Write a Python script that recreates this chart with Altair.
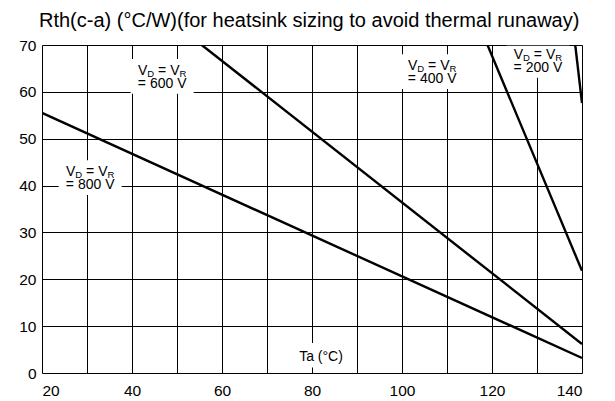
import altair as alt
import pandas as pd

# ---- data ----
ta_800 = [20, 140]
rth_800 = [55.5, 3.2]
ta_600 = [55.5, 140]
rth_600 = [70, 6.2]
ta_400 = [119, 140]
rth_400 = [70, 21.8]
ta_200 = [138.5, 140]
rth_200 = [70, 57.6]

label_volts = ["800 V", "600 V", "400 V", "200 V"]
label_ta = [30.7, 46.7, 106.7, 130.2]
label_rth = [41.7, 63.3, 64.3, 66.7]

axis_label = "Ta (°C)"
axis_label_ta = [82]
axis_label_rth = [3.4]

title = "Rth(c-a) (°C/W)(for heatsink sizing to avoid thermal runaway)"
x_ticks = list(range(20, 141, 10))
y_ticks = list(range(0, 71, 5))

FONT = "Liberation Sans"

rows = []
for name, xs, ys in [("800", ta_800, rth_800), ("600", ta_600, rth_600),
                     ("400", ta_400, rth_400), ("200", ta_200, rth_200)]:
    for i, (a, b) in enumerate(zip(xs, ys)):
        rows.append({"s": name, "ta": a, "rth": b, "o": i})
lines_df = pd.DataFrame(rows)

lab = pd.DataFrame({"ta": label_ta, "rth": label_rth, "v": ["= " + v for v in label_volts]})
lab["x1"] = lab["ta"] - 7.0
lab["x2"] = lab["ta"] + 7.0
lab["y1"] = lab["rth"] - 3.7
lab["y2"] = (lab["rth"] + 3.7).clip(upper=69.85)

tal = pd.DataFrame({"ta": axis_label_ta, "rth": axis_label_rth, "t": [axis_label]})
tal["x1"] = tal["ta"] - 7.0
tal["x2"] = tal["ta"] + 7.0
tal["y1"] = tal["rth"] - 2.2
tal["y2"] = tal["rth"] + 3.0

xs = alt.Scale(domain=[20, 140], nice=False)
ys = alt.Scale(domain=[0, 70], nice=False)

xaxis = alt.Axis(values=x_ticks, title=None, ticks=False, domain=False,
                 labelExpr="datum.value % 20 == 0 ? datum.label : ''",
                 labelFont=FONT, labelFontSize=15.5, labelColor="black",
                 labelPadding=10, gridColor="black", gridOpacity=1, gridWidth=1)
yaxis = alt.Axis(values=y_ticks, title=None, ticks=False, domain=False,
                 labelExpr="datum.value % 10 == 0 ? datum.label : ''",
                 labelFont=FONT, labelFontSize=15.5, labelColor="black",
                 labelPadding=6, gridColor="black", gridOpacity=1, gridWidth=1)

lines = alt.Chart(lines_df).mark_line(color="black", strokeWidth=2.4, clip=True).encode(
    x=alt.X("ta:Q", scale=xs, axis=xaxis),
    y=alt.Y("rth:Q", scale=ys, axis=yaxis),
    detail="s:N",
    order="o:Q",
)

boxes = alt.Chart(lab).mark_rect(color="white").encode(
    x="x1:Q", x2="x2:Q", y="y1:Q", y2="y2:Q")
tboxes = alt.Chart(tal).mark_rect(color="white").encode(
    x="x1:Q", x2="x2:Q", y="y1:Q", y2="y2:Q")

FS = 14
SS = 9.5
base = alt.Chart(lab).encode(x="ta:Q", y="rth:Q")
w_V = 0.667 * FS
w_sub = 0.722 * SS
w_sp = 0.278 * FS
w_eqV = (0.584 + 0.278 + 0.667) * FS
total = w_V + w_sub + w_sp + w_eqV + w_sub
x0 = -total / 2
b1 = -1.5
t_v1 = base.mark_text(text="V", align="left", baseline="alphabetic", dx=x0, dy=b1,
                      font=FONT, fontSize=FS, color="black")
t_d = base.mark_text(text="D", align="left", baseline="alphabetic", dx=x0 + w_V, dy=b1 + 2,
                     font=FONT, fontSize=SS, color="black")
t_eq = base.mark_text(text="= V", align="left", baseline="alphabetic",
                      dx=x0 + w_V + w_sub + w_sp, dy=b1, font=FONT, fontSize=FS, color="black")
t_r = base.mark_text(text="R", align="left", baseline="alphabetic",
                     dx=x0 + w_V + w_sub + w_sp + w_eqV, dy=b1 + 2,
                     font=FONT, fontSize=SS, color="black")
t_line2 = base.mark_text(align="center", baseline="alphabetic", dy=b1 + 13,
                         font=FONT, fontSize=FS, color="black").encode(text="v:N")

t_ta = alt.Chart(tal).mark_text(align="center", baseline="middle", font=FONT,
                                fontSize=FS, color="black").encode(
    x="ta:Q", y="rth:Q", text="t:N")

chart = alt.layer(lines, boxes, tboxes, t_v1, t_d, t_eq, t_r, t_line2, t_ta).properties(
    width=540, height=328,
    autosize=alt.AutoSizeParams(type="none"),
    padding={"left": 34, "top": 37, "right": 25, "bottom": 28},
    title=alt.TitleParams(title, anchor="start", frame="group", font=FONT, fontSize=20,
                          fontWeight="normal", color="black", offset=7, dx=-3),
).configure_view(stroke="black", strokeWidth=1).configure(background="white")

chart.save("out.html", embed_options={"renderer": "svg", "actions": False})
